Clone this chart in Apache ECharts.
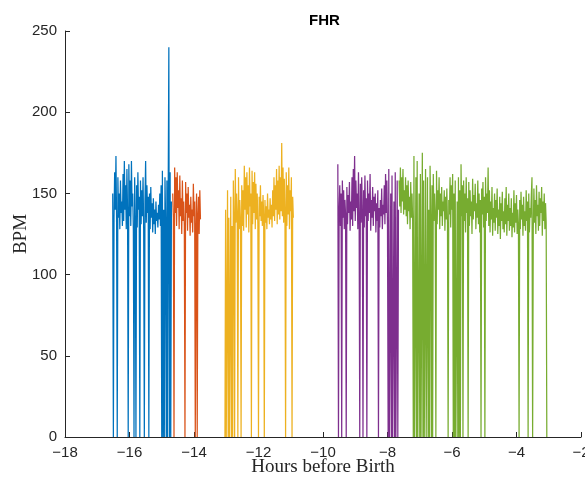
<!DOCTYPE html>
<html>
<head>
<meta charset="utf-8">
<script src="https://cdn.jsdelivr.net/npm/echarts@6/dist/echarts.min.js"></script>
<style>
  html, body { margin: 0; padding: 0; background: #fff; }
  #chart { width: 585px; height: 484px; }
</style>
</head>
<body>
<div id="chart"></div>
<script>
// Fetal heart rate recordings, sampled every 0.02 h (hours before birth), BPM; 0 = signal loss
const SAMPLE_STEP_H = 0.02;

const seg1Start = -16.52;
const seg1Bpm = [
  150,0,135,163,140,173,132,0,160,135,
  150,128,158,138,145,130,162,133,170,140,
  155,128,165,138,0,168,136,158,130,170,
  142,150,127,0,160,134,0,155,129,163,
  140,148,0,158,131,152,136,160,127,0,
  145,170,132,155,138,148,0,150,128,154,
  135,144,126,147,131,140,125,145,133,138,
  129,143,134,150,130,155,0,164,0,140,
  0,160,133,0,158,0,150,240,0,163,
  0,145
];

const seg2Start = -14.66;
const seg2Bpm = [
  150,135,0,166,138,160,130,163,141,152,
  128,161,136,147,125,158,133,145,130,0,
  157,138,150,127,154,135,143,124,148,132,
  140,126,156,136,145,0,130,150,0,137,
  148,125,152,134
];

const seg3Start = -13.04;
const seg3Bpm = [
  0,140,0,0,152,0,135,0,0,148,
  0,130,0,158,136,0,165,132,150,138,
  0,160,128,146,134,0,155,130,152,127,
  167,140,160,129,163,137,155,126,166,142,
  150,0,164,131,157,138,163,128,156,134,
  150,131,0,148,136,155,133,145,130,149,
  137,0,146,132,142,128,150,135,140,131,
  147,134,143,129,152,136,160,133,155,140,
  165,131,158,137,167,134,160,139,181,136,
  166,132,159,140,0,163,130,155,137,166,
  128,152,139,160,0,148,135
];

const seg4Start = -9.54;
const seg4Bpm = [
  168,0,140,155,130,150,0,158,135,152,
  128,146,137,0,154,131,149,138,157,127,
  145,134,160,130,165,139,173,133,158,141,
  150,128,163,137,0,156,132,160,140,0,
  152,129,161,136,147,0,158,133,150,138,
  162,127,146,135,154,130,148,139,150,126,
  144,133,152,0,141,129,146,136,153,128,
  143,137,155,131,162,138,158,129,0,165,
  0,0,150,0,161,0,0,145,0,163,
  0,0,158,0,140
];

const seg5Start = -7.64;
const seg5Bpm = [
  158,142,166,138,160,145,165,137,152,140,
  160,136,155,131,158,139,148,128,157,135,
  150,133,0,173,0,0,160,0,170,0,
  0,150,0,162,0,0,175,0,158,0,
  0,165,0,0,160,0,140,0,167,135,
  0,155,0,162,133,150,138,0,164,131,
  152,140,160,128,150,136,154,130,145,139,
  152,127,148,134,153,131,0,146,137,160,
  129,155,140,162,0,150,0,158,0,0,
  145,0,160,0,152,0,168,136,155,0,
  158,133,150,126,160,138,147,0,157,130,
  152,136,145,125,159,134,149,139,156,128,
  144,135,158,131,150,126,146,0,153,137,
  157,129,148,0,160,133,150,138,166,130,
  152,126,145,134,154,124,141,132,150,127,
  146,135,153,125,140,130,148,122,144,133,
  151,128,139,126,147,131,154,124,143,133,
  150,127,141,130,147,123,138,129,152,126,
  144,132,149,125,140,131,0,146,128,151,
  134,143,124,148,130,139,127,152,133,145,
  0,150,126,141,135,149,160,0,128,153,
  132,146,125,155,136,143,127,151,130,147,
  138,154,124,145,133,150,128,144,132,0
];

const xTicks = [-18, -16, -14, -12, -10, -8, -6, -4, -2];
const yTicks = [0, 50, 100, 150, 200, 250];

const segments = [
  { start: seg1Start, bpm: seg1Bpm, color: '#0072BD' },
  { start: seg2Start, bpm: seg2Bpm, color: '#D95319' },
  { start: seg3Start, bpm: seg3Bpm, color: '#EDB120' },
  { start: seg4Start, bpm: seg4Bpm, color: '#7E2F8E' },
  { start: seg5Start, bpm: seg5Bpm, color: '#77AC30' }
];

const textColor = '#262626';
const sansFont = '"Liberation Sans", Arial, Helvetica, sans-serif';
const serifFont = '"Liberation Serif", "Times New Roman", serif';

// typographic minus for negative tick values
function tickText(v) {
  return String(v).replace('-', '\u2212');
}

const series = segments.map(function (s) {
  return {
    type: 'line',
    showSymbol: false,
    silent: true,
    clip: true,
    lineStyle: { color: s.color, width: 1.25 },
    data: s.bpm.map(function (v, i) {
      return [+(s.start + i * SAMPLE_STEP_H).toFixed(4), v];
    })
  };
});

const chart = echarts.init(document.getElementById('chart'), null, { renderer: 'canvas' });
chart.setOption({
  animation: false,
  backgroundColor: '#ffffff',
  title: {
    text: 'FHR',
    left: 304,
    top: 8,
    textStyle: { fontFamily: sansFont, fontSize: 15, fontWeight: 'bold', color: '#000' }
  },
  grid: { left: 65, right: 4, top: 31, bottom: 47, containLabel: false, outerBoundsMode: 'none' },
  xAxis: {
    type: 'value',
    min: xTicks[0],
    max: xTicks[xTicks.length - 1],
    interval: 2,
    name: 'Hours before Birth',
    nameLocation: 'middle',
    nameGap: 21,
    nameMoveOverlap: false,
    nameTextStyle: { fontFamily: serifFont, fontSize: 19, color: textColor },
    axisLine: { show: true, onZero: false, lineStyle: { color: textColor, width: 1 } },
    axisTick: { show: true, inside: true, length: 5, lineStyle: { color: textColor } },
    axisLabel: { margin: 8, fontFamily: sansFont, fontSize: 15, color: textColor, formatter: tickText },
    splitLine: { show: false }
  },
  yAxis: {
    type: 'value',
    min: yTicks[0],
    max: yTicks[yTicks.length - 1],
    interval: 50,
    name: 'BPM',
    nameLocation: 'middle',
    nameGap: 34,
    nameMoveOverlap: false,
    nameTextStyle: { fontFamily: serifFont, fontSize: 19, color: textColor },
    axisLine: { show: true, lineStyle: { color: textColor, width: 1 } },
    axisTick: { show: true, inside: true, length: 5, lineStyle: { color: textColor } },
    axisLabel: { margin: 8, fontFamily: sansFont, fontSize: 15, color: textColor },
    splitLine: { show: false }
  },
  series: series
});
</script>
</body>
</html>
